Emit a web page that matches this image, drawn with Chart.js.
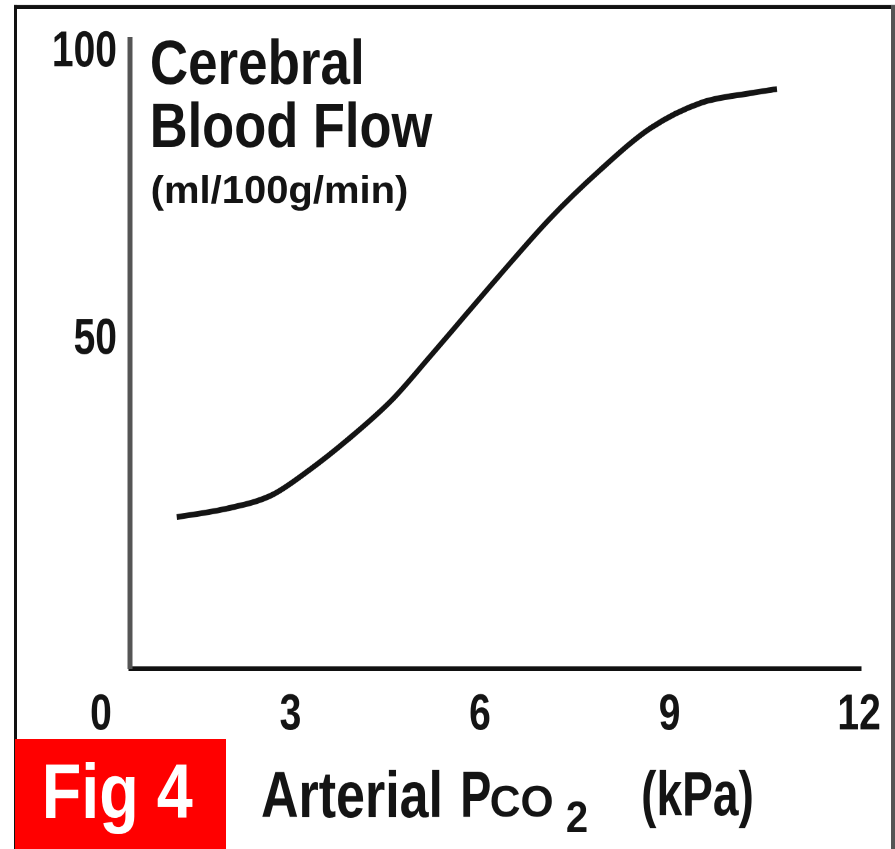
<!DOCTYPE html>
<html>
<head>
<meta charset="utf-8">
<script src="https://cdn.jsdelivr.net/npm/chart.js@4.4.1/dist/chart.umd.min.js"></script>
<style>
  html, body { margin: 0; padding: 0; background: #fff; }
  #wrap { width: 895px; height: 849px; position: relative; overflow: hidden; }
  /* the original figure is drawn vertically stretched, so the chart is too */
  #fig { position: absolute; left: 0; top: 0; transform: scaleY(1.3002); transform-origin: 0 0; }
</style>
</head>
<body>
<div id="wrap"><canvas id="fig" width="895" height="653"></canvas></div>
<script>
// arterial PCO2 (kPa) and cerebral blood flow (ml/100g/min)
const pco2 = [1.2, 2.0, 2.7, 3.3, 3.9, 4.6, 5.2, 5.8, 6.3, 7.1, 7.9, 8.7, 9.5, 10.3, 10.7];
const cbf  = [20.1, 21.6, 23.9, 28.3, 33.5, 40.4, 47.9, 55.6, 62.0, 71.9, 80.4, 87.7, 92.1, 93.8, 94.5];

const xTicks = [0, 3, 6, 9, 12];
const yTicks = [50, 100];

const FONT = '"Liberation Sans", Arial, Helvetica, sans-serif';
const INK = "#141414";

// draw a string so that its ink fills a given width, left edge at x
function fitText(ctx, str, x, base, w, size, weight, color) {
    ctx.font = weight + " " + size + "px " + FONT;
    const m = ctx.measureText(str);
    const ink = m.actualBoundingBoxRight + m.actualBoundingBoxLeft;
    const sx = w / ink;
    ctx.save();
    ctx.fillStyle = color;
    ctx.textAlign = "left";
    ctx.textBaseline = "alphabetic";
    ctx.translate(x + m.actualBoundingBoxLeft * sx, base);
    ctx.scale(sx, 1);
    ctx.fillText(str, 0, 0);
    ctx.restore();
}

const framePlugin = {
    id: "frame",
    beforeDraw(chart) {
        const ctx = chart.ctx;
        ctx.save();
        ctx.fillStyle = "#fff";
        ctx.fillRect(0, 0, chart.width, chart.height);
        ctx.fillStyle = "#111";
        ctx.fillRect(14, 3.9, 881, 3.1);
        ctx.fillRect(14, 3.9, 3, chart.height);
        ctx.fillStyle = "#555";
        ctx.fillRect(891, 3.9, 4, chart.height);
        // red figure tag
        ctx.fillStyle = "#ff0000";
        ctx.fillRect(15, 568.5, 211, 90);
        ctx.restore();
    },
    afterDraw(chart) {
        const ctx = chart.ctx;
        fitText(ctx, "Cerebral", 151, 64.6, 210, 48, "bold", INK);
        fitText(ctx, "Blood Flow", 153, 113.1, 280, 48, "bold", INK);
        fitText(ctx, "(ml/100g/min)", 152, 156.2, 255, 30, "bold", INK);

        fitText(ctx, "Fig 4", 45, 629.2, 148, 59, "bold", "#fff");
        fitText(ctx, "Arterial", 262, 628.5, 178, 50, "bold", INK);
        fitText(ctx, "P", 463, 627.8, 27, 50, "bold", INK);
        fitText(ctx, "CO", 491, 627.8, 62, 34, "bold", INK);
        fitText(ctx, "2", 567, 640, 20, 34, "bold", INK);
        fitText(ctx, "(kPa)", 643, 627, 109, 48, "bold", INK);
    }
};

const ctx = document.getElementById("fig").getContext("2d");
new Chart(ctx, {
    type: "line",
    data: {
        datasets: [{
            data: pco2.map((v, i) => ({ x: v, y: cbf[i] })),
            borderColor: INK,
            borderWidth: 4.5,
            pointRadius: 0,
            fill: false,
            cubicInterpolationMode: "monotone"
        }]
    },
    options: {
        responsive: false,
        animation: false,
        devicePixelRatio: 2,
        layout: { padding: { top: 30.8, right: 34, bottom: 0, left: 0 } },
        plugins: {
            legend: { display: false },
            tooltip: { enabled: false }
        },
        scales: {
            x: {
                type: "linear",
                min: 0.46,
                max: 12.03,
                grid: { display: false },
                border: { color: "#111", width: 3.5 },
                afterBuildTicks: axis => { axis.ticks = xTicks.map(v => ({ value: v })); },
                afterFit: axis => { axis.height = 139; },
                ticks: {
                    autoSkip: false,
                    maxRotation: 0,
                    padding: 5,
                    color: INK,
                    font: { family: FONT, size: 39, weight: "bold" }
                }
            },
            y: {
                type: "linear",
                min: -6.17,
                max: 103,
                grid: { display: false },
                border: { color: "#555", width: 5 },
                afterBuildTicks: axis => { axis.ticks = yTicks.map(v => ({ value: v })); },
                afterFit: axis => { axis.width = 130; },
                ticks: {
                    autoSkip: false,
                    padding: 5,
                    labelOffset: -4,
                    color: INK,
                    font: { family: FONT, size: 39, weight: "bold" }
                }
            }
        }
    },
    plugins: [framePlugin]
});
</script>
</body>
</html>
